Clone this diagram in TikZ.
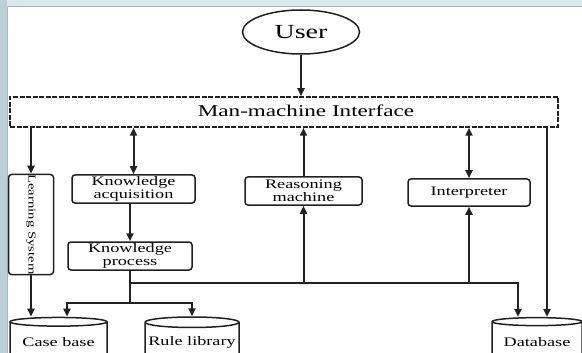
\documentclass[tikz,border=0pt]{standalone}
\usepackage{fontspec}
\setmainfont[FakeStretch=1.4]{Liberation Serif}
\usetikzlibrary{arrows.meta}
\usetikzlibrary{shapes.geometric, calc}
\definecolor{ink}{rgb}{0.13,0.13,0.13}
\definecolor{slidetop}{rgb}{0.84,0.91,0.92}
\definecolor{slideleft}{rgb}{0.74,0.81,0.84}

\begin{document}
\begin{tikzpicture}[x=1pt, y=-1pt,
    modbox/.style={draw=ink, line width=1.5pt, rounded corners=3pt, inner sep=0pt, align=center, font=\fontsize{13}{13}\selectfont},
    store/.style={cylinder, shape border rotate=90, draw=ink, line width=1.5pt, aspect=0.12, inner sep=0pt, font=\fontsize{13}{14}\selectfont},
    link/.style={draw=ink, line width=2pt},
    onearrow/.style={-{Triangle[length=8pt,width=7pt]}},
    twoarrow/.style={{Triangle[length=8pt,width=7pt]}-{Triangle[length=8pt,width=7pt]}}]
    \useasboundingbox (0,0) rectangle (582,353);
    \clip (0,0) rectangle (582,353);
    % slide background
    \fill[white] (0,0) rectangle (582,353);
    \fill[slidetop] (0,0) rectangle (582,7);
    \fill[slideleft] (0,0) rectangle (7,353);
    \draw[gray!60, line width=1pt] (7,353) -- (7,7) -- (582,7);

    \node[ellipse, draw=ink, line width=1.5pt, minimum width=117pt, minimum height=44pt, font=\fontsize{20}{20}\selectfont] (user) at (301,32) {User};
    \node[draw=ink, line width=1.5pt, dash pattern=on 5pt off 1.5pt, minimum width=548pt, minimum height=30pt] (mmi) at (284,112) {};
    \node[font=\fontsize{16.5}{16.5}\selectfont] (mmitext) at (306,111) {Man-machine Interface};

    \node[modbox, minimum width=45pt, minimum height=95pt] (learn) at (31,224.5) {\rotatebox{-90}{\fontsize{10.5}{10.5}\selectfont Learning System}};
    \node[modbox, minimum width=123pt, minimum height=28pt] (ka) at (133.5,189) {Knowledge\\acquisition};
    \node[modbox, minimum width=124pt, minimum height=28pt] (kp) at (130,256) {Knowledge\\process};
    \node[modbox, minimum width=117pt, minimum height=28pt] (rm) at (303.5,191) {Reasoning\\machine};
    \node[modbox, minimum width=122pt, minimum height=27pt] (ip) at (469,192.5) {Interpreter};

    \node[store, minimum width=97pt, minimum height=44pt] (cb) at (58.5,342) {Case base};
    \node[store, minimum width=94pt, minimum height=44pt] (rl) at (192,342) {Rule library};
    \node[store, minimum width=90pt, minimum height=44pt] (db) at (537,342) {Database};

    \coordinate (bus) at (130,283);
    \coordinate (split) at (130,303);
    \coordinate (cbin) at (67,303);
    \coordinate (dbin) at (518,283);
    \coordinate (rside) at (547,127);

    \draw[link, onearrow] (user.south) -- (user.south |- mmi.north);
    \draw[link, onearrow] (learn.north |- mmi.south) -- (learn.north);
    \draw[link, onearrow] (learn.south) -- (learn.south |- cb.north);
    \draw[link, twoarrow] (ka.north |- mmi.south) -- (ka.north);
    \draw[link, onearrow] (kp.north |- ka.south) -- (kp.north);
    \draw[link] (kp.south) -- (split);
    \draw[link, onearrow] (split) -| (cbin |- cb.north);
    \draw[link, onearrow] (split) -| (rl.north);
    \draw[link, onearrow] (bus) -- (dbin) -- (dbin |- db.north);
    \draw[link, onearrow] (rm.south |- bus) -- (rm.south);
    \draw[link, onearrow] (rm.north) -- (rm.north |- mmi.south);
    \draw[link, onearrow] (ip.south |- bus) -- (ip.south);
    \draw[link, twoarrow] (ip.north |- mmi.south) -- (ip.north);
    \draw[link, onearrow] (rside) -- (rside |- db.north);
\end{tikzpicture}
\end{document}
